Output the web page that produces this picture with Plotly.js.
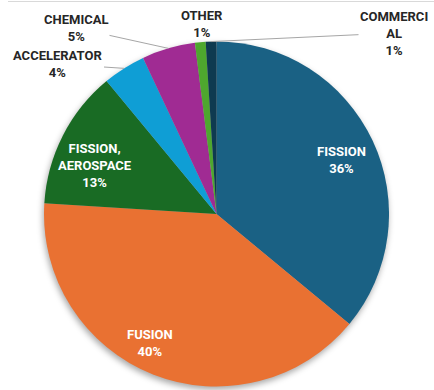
<!DOCTYPE html>
<html>
<head>
<meta charset="utf-8">
<script src="https://cdn.plot.ly/plotly-3.0.1.min.js"></script>
<style>
  html, body { margin: 0; padding: 0; background: #fff; }
  #chart { width: 434px; height: 390px; }
</style>
</head>
<body>
<div id="chart"></div>
<script>
// ---- data ----
const categories = ["FISSION", "FUSION", "FISSION, AEROSPACE", "ACCELERATOR", "CHEMICAL", "OTHER", "COMMERCIAL"];
const shares = [36, 40, 13, 4, 5, 1, 1];
const labelLines = ["FISSION<br>36%", "FUSION<br>40%", "FISSION,<br>AEROSPACE<br>13%", "ACCELERATOR<br>4%", "CHEMICAL<br>5%", "OTHER<br>1%", "COMMERCI<br>AL<br>1%"];
const colors = ["#1A6184", "#E97132", "#196B24", "#0F9ED5", "#A02B93", "#4EA72E", "#0E3A50"];

// ---- layout geometry (pixels) ----
const W = 434, H = 390;
const CX = 216.5, CY = 214, R = 172.5;
// label anchor positions (pixels) and whether label is outside (with leader line)
const labelPos = [
  [341, 160, false],
  [150, 343, false],
  [95, 165, false],
  [58, 64, true],
  [76, 28, true],
  [202, 24, false],
  [394, 33, true]
];

const total = shares.reduce((a, b) => a + b, 0);
const annotations = [];
let cum = 0;
shares.forEach((v, i) => {
  const mid = (cum + v / 2) / total * 2 * Math.PI; // clockwise from top
  cum += v;
  const tipX = CX + R * Math.sin(mid);
  const tipY = CY - R * Math.cos(mid);
  const [lx, ly, outside] = labelPos[i];
  const inside = i < 3;
  const base = {
    text: labelLines[i],
    showarrow: false,
    font: { family: "Liberation Sans Narrow, Roboto, Arial", size: 13, color: inside ? "#FFFFFF" : "#262626", weight: 700 },
    align: "center",
    xref: "paper", yref: "paper",
    xanchor: "center", yanchor: "middle"
  };
  if (outside) {
    annotations.push(Object.assign(base, {
      x: tipX / W, y: 1 - tipY / H,
      showarrow: true, arrowhead: 0, arrowwidth: 1, arrowcolor: "#A6A6A6",
      ax: lx - tipX, ay: ly - tipY, standoff: 0, startstandoff: 0
    }));
  } else {
    annotations.push(Object.assign(base, { x: lx / W, y: 1 - ly / H }));
  }
});

const trace = {
  type: "pie",
  labels: categories,
  values: shares,
  sort: false,
  direction: "clockwise",
  rotation: 0,
  textinfo: "none",
  hoverinfo: "label+percent",
  marker: { colors: colors, line: { width: 0 } },
  domain: { x: [(CX - R) / W, (CX + R) / W], y: [1 - (CY + R) / H, 1 - (CY - R) / H] },
  showlegend: false
};

const layout = {
  width: W, height: H,
  margin: { l: 0, r: 0, t: 0, b: 0 },
  paper_bgcolor: "#FFFFFF",
  showlegend: false,
  annotations: annotations,
  shapes: [
    { type: "line", xref: "paper", yref: "paper", x0: 8 / W, x1: 1, y0: 1 - 1.5 / H, y1: 1 - 1.5 / H, line: { color: "#D9D9D9", width: 1 } }
  ]
};

Plotly.newPlot("chart", [trace], layout, { displayModeBar: false, staticPlot: true }).then(() => {
  const pl = document.querySelector(".pielayer");
  if (pl) pl.style.filter = "drop-shadow(-1px 3px 3px rgba(0,0,0,0.35))";
});
</script>
</body>
</html>
